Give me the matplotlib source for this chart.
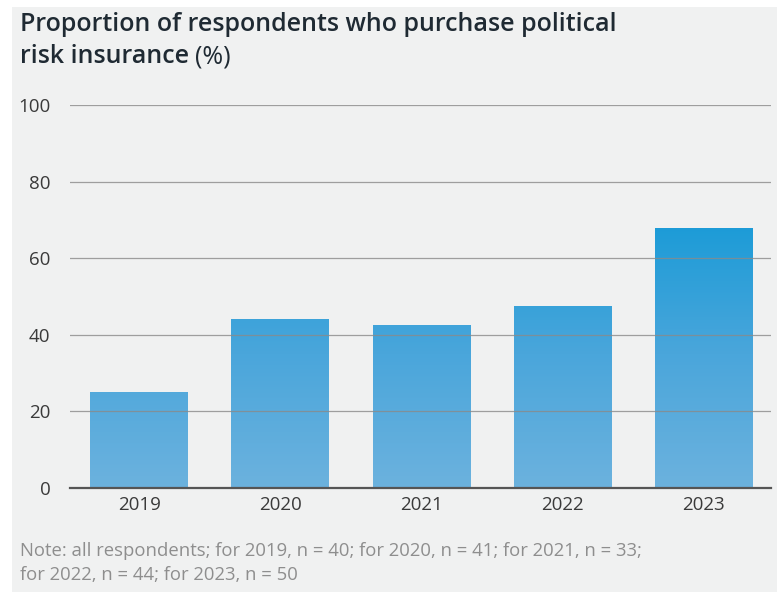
import numpy as np
import matplotlib
matplotlib.use("Agg")
import matplotlib.pyplot as plt
from matplotlib.colors import LinearSegmentedColormap
from matplotlib.patches import Rectangle

years = ["2019", "2020", "2021", "2022", "2023"]
share = [25, 44, 42.5, 47.5, 68]
yticks = [0, 20, 40, 60, 80, 100]

title_line1 = "Proportion of respondents who purchase political"
title_line2 = "risk insurance"
note = ("Note: all respondents; for 2019, n = 40; for 2020, n = 41; for 2021, n = 33;\n"
        "for 2022, n = 44; for 2023, n = 50")

plt.rcParams["font.family"] = ["Open Sans", "DejaVu Sans"]

bg = "#f0f1f1"
fig = plt.figure(figsize=(7.77, 5.92), dpi=100)
fig.patch.set_facecolor("white")
fig.add_artist(Rectangle((12 / 777, 0), 1, 1 - 7 / 592, transform=fig.transFigure,
                         facecolor=bg, edgecolor="none", zorder=-10))

ax = fig.add_axes([70 / 777, 1 - 488 / 592, (771 - 70) / 777, (488 - 105) / 592])
ax.set_facecolor("none")
ax.set_xlim(-0.49, 4.48)
ax.set_ylim(0, 100)

x = np.arange(len(years))
bars = ax.bar(x, share, width=0.69, color="none", zorder=2)

# vertical gradient tied to the value axis
cmap = LinearSegmentedColormap.from_list("grad", ["#6cb2de", "#4aa6db", "#1a9bd7"])
grad = np.linspace(0, 1, 256).reshape(-1, 1)
for b in bars:
    im = ax.imshow(grad, cmap=cmap, vmin=0, vmax=1, aspect="auto", origin="lower",
                   extent=[b.get_x(), b.get_x() + b.get_width(), 0, 70], zorder=2)
    im.set_clip_path(b)

ax.set_yticks(yticks)
ax.yaxis.grid(True, color="#8a8a8a", linewidth=0.9, alpha=0.8, zorder=3)
ax.set_axisbelow(False)
for s in ["top", "right", "left"]:
    ax.spines[s].set_visible(False)
ax.spines["bottom"].set_color("#555555")
ax.spines["bottom"].set_linewidth(1.6)
ax.spines["bottom"].set_zorder(4)

ax.set_xticks(x)
ax.set_xticklabels(years)
ax.tick_params(axis="both", length=0, labelsize=13.5, colors="#3a3a3a")
ax.tick_params(axis="x", pad=6)
ax.tick_params(axis="y", pad=14)

t1 = fig.text(20 / 777, 1 - 12 / 592, title_line1, ha="left", va="top", fontsize=18,
              color="#1f2a33", fontweight="semibold")
t2 = fig.text(20 / 777, 1 - 44 / 592, title_line2, ha="left", va="top", fontsize=18,
              color="#1f2a33", fontweight="semibold")
fig.canvas.draw()
bb = t2.get_window_extent()
fig.text(bb.x1 / fig.bbox.width + 6 / 777, 1 - 44 / 592, "(%)", ha="left", va="top",
         fontsize=18, color="#1f2a33")
fig.text(20 / 777, 1 - 542 / 592, note, ha="left", va="top", fontsize=13.3,
         color="#8e8e8e", linespacing=1.45)

fig.savefig("out.png", dpi=100, facecolor=fig.get_facecolor())
